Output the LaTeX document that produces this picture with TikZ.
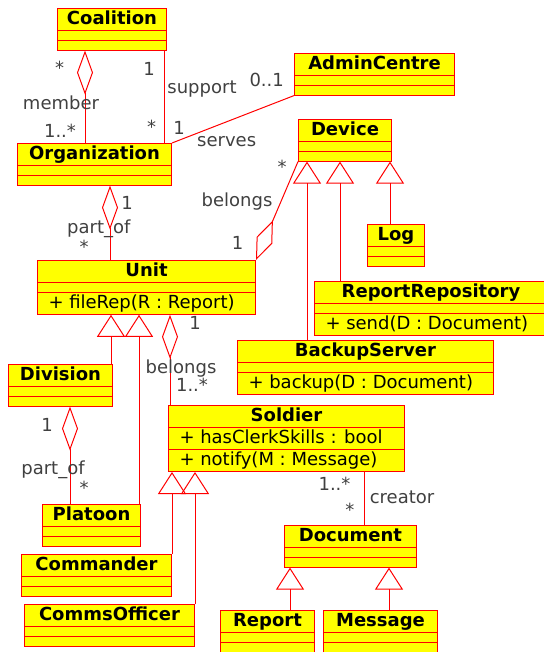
\documentclass[tikz,border=0pt]{standalone}
\usepackage{fontspec}
\setmainfont{DejaVu Sans}
\usepackage{tikz}
\usetikzlibrary{arrows.meta, shapes.multipart}
\definecolor{umlred}{RGB}{255, 0, 0}
\definecolor{umlyellow}{RGB}{255, 255, 0}
\definecolor{rolegray}{RGB}{64, 64, 64}

\newcommand{\rowstrut}{\rule[-5.2pt]{0pt}{21pt}}
\newcommand{\emptyrow}{\rule{0pt}{8.8pt}}
\newcommand{\ctitle}[2]{\makebox[#1pt][c]{\bfseries #2}\rowstrut}
\newcommand{\cmember}[2]{\makebox[#1pt][l]{\hspace{11pt}#2}\rowstrut}

\tikzset{
  umlclass/.style={rectangle split, rectangle split parts=3, draw=umlred,
                   fill=umlyellow, line width=1pt, inner sep=0pt, anchor=north west},
  link/.style={draw=umlred, line width=1pt},
  aggr/.style={link, -{Diamond[open, length=44pt, width=16pt]}},
  gen/.style={link, -{Triangle[open, length=22pt, width=28pt]}},
  role/.style={text=rolegray, anchor=base, inner sep=0pt}
}

\begin{document}
\begin{tikzpicture}[x=1pt, y=-1pt, font=\fontsize{18pt}{22pt}\selectfont]
  \useasboundingbox (0,0) rectangle (543,652);

  % ---- classes ----
  \node[umlclass] (coalition) at (57,8)
    {\ctitle{109}{Coalition}\nodepart{two}\emptyrow\nodepart{three}\emptyrow};
  \node[umlclass] (organization) at (17,143)
    {\ctitle{154}{Organization}\nodepart{two}\emptyrow\nodepart{three}\emptyrow};
  \node[umlclass] (admincentre) at (294,53)
    {\ctitle{160}{AdminCentre}\nodepart{two}\emptyrow\nodepart{three}\emptyrow};
  \node[umlclass] (device) at (298,119)
    {\ctitle{93}{Device}\nodepart{two}\emptyrow\nodepart{three}\emptyrow};
  \node[umlclass] (log) at (367,224)
    {\ctitle{57}{Log}\nodepart{two}\emptyrow\nodepart{three}\emptyrow};
  \node[umlclass] (reportrepository) at (314,281)
    {\ctitle{233}{ReportRepository}\nodepart{two}\emptyrow
     \nodepart{three}\cmember{233}{+ send(D : Document)}};
  \node[umlclass] (backupserver) at (237,340)
    {\ctitle{256}{BackupServer}\nodepart{two}\emptyrow
     \nodepart{three}\cmember{256}{+ backup(D : Document)}};
  \node[umlclass] (unit) at (37,260)
    {\ctitle{218}{Unit}\nodepart{two}\emptyrow
     \nodepart{three}\cmember{218}{+ fileRep(R : Report)}};
  \node[umlclass] (division) at (8,364)
    {\ctitle{104}{Division}\nodepart{two}\emptyrow\nodepart{three}\emptyrow};
  \node[umlclass] (platoon) at (42,504)
    {\ctitle{98}{Platoon}\nodepart{two}\emptyrow\nodepart{three}\emptyrow};
  \node[umlclass] (commander) at (21,554)
    {\ctitle{150}{Commander}\nodepart{two}\emptyrow\nodepart{three}\emptyrow};
  \node[umlclass] (commsofficer) at (24,604)
    {\ctitle{170}{CommsOfficer}\nodepart{two}\emptyrow\nodepart{three}\emptyrow};
  \node[umlclass] (soldier) at (168,405)
    {\ctitle{236}{Soldier}\nodepart{two}\cmember{236}{+ hasClerkSkills : bool}
     \nodepart{three}\cmember{236}{+ notify(M : Message)}};
  \node[umlclass] (document) at (284,525)
    {\ctitle{132}{Document}\nodepart{two}\emptyrow\nodepart{three}\emptyrow};
  \node[umlclass] (report) at (220,610)
    {\ctitle{94}{Report}\nodepart{two}\emptyrow\nodepart{three}\emptyrow};
  \node[umlclass] (message) at (323,610)
    {\ctitle{114}{Message}\nodepart{two}\emptyrow\nodepart{three}\emptyrow};

  % ---- associations ----
  \draw[aggr] (organization.north -| 85,0) -- (coalition.south -| 85,0);
  \draw[link] (coalition.south -| 164,0) -- (organization.north -| 164,0);
  \draw[link] (organization.north east) -- (admincentre.south west);
  \draw[aggr] (unit.north -| 110,0) -- (organization.south -| 110,0);
  \draw[link, {Diamond[open, length=43pt, width=17pt]}-] (unit.north east) -- (device.south west);
  \draw[aggr] (soldier.north -| 170,0) -- (unit.south -| 170,0);
  \draw[aggr] (platoon.north -| 70,0) -- (division.south -| 70,0);
  \draw[link] (soldier.south -| 364,0) -- (document.north -| 364,0);

  % ---- generalizations ----
  \draw[gen] (backupserver.north -| 307,0) -- (device.south -| 307,0);
  \draw[gen] (reportrepository.north -| 340,0) -- (device.south -| 340,0);
  \draw[gen] (log.north -| 390,0) -- (device.south -| 390,0);
  \draw[gen] (division.north -| 111,0) -- (unit.south -| 111,0);
  \draw[gen] (platoon.north -| 139,0) -- (unit.south -| 139,0);
  \draw[gen] (commander.north east) -- (soldier.south -| commander.north east);
  \draw[gen] (commsofficer.north east) -- (soldier.south -| commsofficer.north east);
  \draw[gen] (report.north -| 290,0) -- (document.south -| 290,0);
  \draw[gen] (message.north -| 389,0) -- (document.south -| 389,0);

  % ---- role names and multiplicities ----
  \node[role] (memberA) at (59.5,75) {*};
  \node[role] (memberL) at (61,110) {member};
  \node[role] (memberB) at (60,137.3) {1..*};
  \node[role] (supportA) at (149,75.7) {1};
  \node[role] (supportL) at (202,93.5) {support};
  \node[role] (supportB) at (151.7,133.8) {*};
  \node[role] (servesA) at (179,135) {1};
  \node[role] (servesL) at (226.7,146.7) {serves};
  \node[role] (servesB) at (266.7,86.7) {0..1};
  \node[role] (partofA) at (127,209) {1};
  \node[role] (partofL) at (98.8,233.5) {part\_of};
  \node[role] (partofB) at (84,253) {*};
  \node[role] (deviceA) at (282,173.8) {*};
  \node[role] (deviceL) at (237,207) {belongs};
  \node[role] (deviceB) at (237.5,249.3) {1};
  \node[role] (soldierA) at (195,329) {1};
  \node[role] (soldierL) at (181,373.5) {belongs};
  \node[role] (soldierB) at (192,391.7) {1..*};
  \node[role] (platoonA) at (47,431) {1};
  \node[role] (platoonL) at (53,474) {part\_of};
  \node[role] (platoonB) at (84,494.8) {*};
  \node[role] (creatorA) at (334.5,490.7) {1..*};
  \node[role] (creatorL) at (402,503) {creator};
  \node[role] (creatorB) at (349.8,516.4) {*};
\end{tikzpicture}
\end{document}
